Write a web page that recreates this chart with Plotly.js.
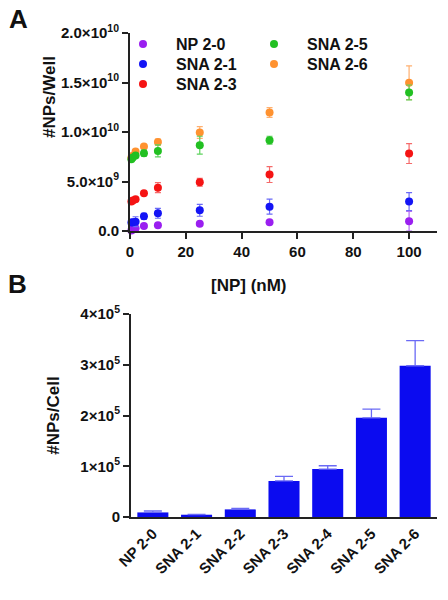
<!DOCTYPE html>
<html><head><meta charset="utf-8">
<script src="https://cdn.plot.ly/plotly-3.0.1.min.js"></script>
<style>html,body{margin:0;padding:0;background:#fff}#chart{width:448px;height:600px}</style>
</head><body><div id="chart"></div>
<script>
// Panel A data: concentration (nM) vs #NPs/Well
const concentrations = [0.5, 1, 2, 5, 10, 25, 50, 100];
const np20  = [0.05e9, 0.15e9, 0.27e9, 0.50e9, 0.57e9, 0.74e9, 0.88e9, 0.98e9];
const np20Err = [0.05e9, 0.1e9, 0.1e9, 0.1e9, 0.1e9, 0.1e9, 0.1e9, 1.0e9];
const sna21 = [0.85e9, 0.88e9, 0.94e9, 1.48e9, 1.79e9, 2.09e9, 2.46e9, 2.97e9];
const sna21Err = [0.1e9, 0.2e9, 0.5e9, 0.3e9, 0.5e9, 0.6e9, 0.75e9, 0.9e9];
const sna23 = [2.97e9, 3.07e9, 3.20e9, 3.81e9, 4.38e9, 4.92e9, 5.70e9, 7.82e9];
const sna23Err = [0.1e9, 0.1e9, 0.15e9, 0.15e9, 0.5e9, 0.4e9, 0.8e9, 1.0e9];
const sna25 = [7.25e9, 7.42e9, 7.62e9, 7.86e9, 8.09e9, 8.67e9, 9.17e9, 14.0e9];
const sna25Err = [0.1e9, 0.15e9, 0.2e9, 0.3e9, 0.6e9, 0.9e9, 0.4e9, 0.75e9];
const sna26 = [7.4e9, 7.6e9, 8.03e9, 8.53e9, 8.98e9, 9.95e9, 11.97e9, 14.97e9];
const sna26Err = [0.1e9, 0.1e9, 0.15e9, 0.2e9, 0.3e9, 0.6e9, 0.5e9, 1.7e9];
const topXTickVals = [0, 20, 40, 60, 80, 100];
const topYTickVals = [0, 5e9, 1e10, 1.5e10, 2e10];
const topYTickText = ['0.0', '5.0×10<sup>9</sup>', '1.0×10<sup>10</sup>', '1.5×10<sup>10</sup>', '2.0×10<sup>10</sup>'];

// Panel B data: #NPs/Cell
const barCategories = ['NP 2-0', 'SNA 2-1', 'SNA 2-2', 'SNA 2-3', 'SNA 2-4', 'SNA 2-5', 'SNA 2-6'];
const barValues = [9000, 4500, 15000, 71000, 94500, 195500, 298000];
const barErrors = [3000, 500, 2000, 9000, 6500, 17000, 49500];
const botYTickVals = [0, 1e5, 2e5, 3e5, 4e5];
const botYTickText = ['0', '1×10<sup>5</sup>', '2×10<sup>5</sup>', '3×10<sup>5</sup>', '4×10<sup>5</sup>'];

const FONT = 'Liberation Sans, Arial, sans-serif';

function series(name, y, err, color, errColor, legend) {
  return {
    type: 'scatter', mode: 'markers', name: name, x: concentrations, y: y,
    xaxis: 'x', yaxis: 'y', legend: legend,
    marker: {color: color, size: 8},
    error_y: {type: 'data', array: err, visible: true, color: errColor, thickness: 1.2, width: 3},
    cliponaxis: false
  };
}

const traces = [
  series('NP 2-0', np20, np20Err, '#9a1ff0', '#b36ef5', 'legend'),
  series('SNA 2-1', sna21, sna21Err, '#1414f5', '#6a6af7', 'legend2'),
  series('SNA 2-3', sna23, sna23Err, '#f51414', '#f56a6a', 'legend3'),
  series('SNA 2-6', sna26, sna26Err, '#ff9230', '#ffb070', 'legend5'),
  series('SNA 2-5', sna25, sna25Err, '#22c022', '#5ed35e', 'legend4'),
  {
    type: 'bar', x: barCategories, y: barValues, xaxis: 'x2', yaxis: 'y2', showlegend: false,
    marker: {color: '#0b0bf0', line: {width: 0}}, width: 0.71,
    error_y: {type: 'data', symmetric: false, array: barErrors, arrayminus: barValues.map(() => 0), color: '#6a6af5', thickness: 1.3, width: 9}
  }
];

const axisCommon = {
  showline: true, linecolor: '#222', linewidth: 2, showgrid: false, zeroline: false,
  ticks: 'outside', ticklen: 6, tickwidth: 2, tickcolor: '#222',
  tickfont: {family: FONT, size: 15, color: '#111', weight: 'bold'}
};

function legendAt(px, py) {
  // px, py: pixel position of the legend marker centre
  return {
    x: (px - 31) / 448, y: 1 - py / 600, xanchor: 'left', yanchor: 'middle', bgcolor: 'rgba(0,0,0,0)',
    font: {family: FONT, size: 16, weight: 'bold', color: '#111'}, itemwidth: 56
  };
}

const layout = {
  width: 448, height: 600,
  margin: {l: 0, r: 0, t: 0, b: 0},
  paper_bgcolor: '#fff', plot_bgcolor: '#fff',
  font: {family: FONT, color: '#111'},
  showlegend: true,
  xaxis: Object.assign({}, axisCommon, {
    domain: [130/448, 437/448], range: [0, 110], anchor: 'y',
    tickvals: topXTickVals
  }),
  yaxis: Object.assign({}, axisCommon, {
    domain: [1 - 231/600, 1 - 33/600], range: [0, 2e10], anchor: 'x',
    tickvals: topYTickVals, ticktext: topYTickText
  }),
  xaxis2: Object.assign({}, axisCommon, {
    domain: [131/448, 437/448], anchor: 'y2', ticks: '', tickangle: -45,
    range: [-0.5, 6.5]
  }),
  yaxis2: Object.assign({}, axisCommon, {
    domain: [1 - 517/600, 1 - 314/600], range: [0, 4e5], anchor: 'x2',
    tickvals: botYTickVals, ticktext: botYTickText,
    title: {text: '#NPs/Cell', font: {family: FONT, size: 17, weight: 'bold', color: '#111'}, standoff: 16}
  }),
  legend: legendAt(141, 44),
  legend2: legendAt(141, 64),
  legend3: legendAt(141, 84),
  legend4: legendAt(272, 44),
  legend5: legendAt(272, 64),
  annotations: [
    {text: 'A', xref: 'paper', yref: 'paper', x: 18/448, y: 1 - 19/600, xanchor: 'center', yanchor: 'middle', showarrow: false,
     font: {family: FONT, size: 26, weight: 'bold', color: '#111'}},
    {text: 'B', xref: 'paper', yref: 'paper', x: 17/448, y: 1 - 284/600, xanchor: 'center', yanchor: 'middle', showarrow: false,
     font: {family: FONT, size: 26, weight: 'bold', color: '#111'}},
    {text: '[NP] (nM)', xref: 'paper', yref: 'paper', x: 249/448, y: 1 - 285/600, xanchor: 'center', yanchor: 'middle', showarrow: false,
     font: {family: FONT, size: 17, weight: 'bold', color: '#111'}},
    {text: '#NPs/Well', xref: 'paper', yref: 'paper', x: 50/448, y: 1 - 97/600, xanchor: 'center', yanchor: 'middle', showarrow: false, textangle: -90,
     font: {family: FONT, size: 17, weight: 'bold', color: '#111'}}
  ]
};

Plotly.newPlot('chart', traces, layout, {displayModeBar: false, staticPlot: true});
</script>
</body></html>
